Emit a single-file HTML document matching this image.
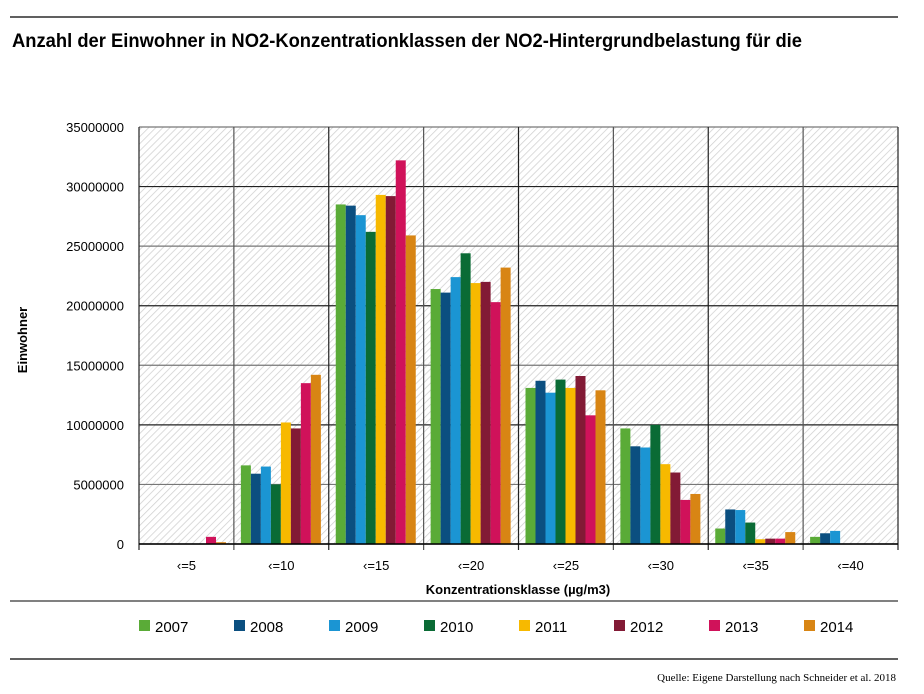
<!DOCTYPE html>
<html><head><meta charset="utf-8"><style>
body{margin:0;background:#fff;font-family:"Liberation Sans",sans-serif;}
</style></head><body>
<svg width="924" height="689" xmlns="http://www.w3.org/2000/svg">
<defs><pattern id="hatch" width="5" height="5" patternUnits="userSpaceOnUse" patternTransform="rotate(45)"><rect width="5" height="5" fill="#fff"/><line x1="0" y1="0" x2="0" y2="5" stroke="#cfcfcf" stroke-width="1.5"/></pattern></defs>
<line x1="10" y1="17" x2="898" y2="17" stroke="#000" stroke-width="1.2"/>
<text x="12" y="47" font-size="19" font-weight="bold" fill="#000" textLength="790" lengthAdjust="spacingAndGlyphs">Anzahl der Einwohner in NO2-Konzentrationklassen der NO2-Hintergrundbelastung für die</text>
<g id="plot"></g>
<text transform="translate(27,340) rotate(-90)" text-anchor="middle" font-size="13" font-weight="bold">Einwohner</text>
<text x="518" y="594" text-anchor="middle" font-size="13" font-weight="bold">Konzentrationsklasse (µg/m3)</text>
<line x1="10" y1="601" x2="898" y2="601" stroke="#000" stroke-width="1"/>
<g id="legend"></g>
<line x1="10" y1="659" x2="898" y2="659" stroke="#000" stroke-width="1.2"/>
<text x="896" y="681" text-anchor="end" font-size="11" font-family="Liberation Serif,serif">Quelle: Eigene Darstellung nach Schneider et al. 2018</text>
</svg>
<script>
const categories=["<=5","<=10","<=15","<=20","<=25","<=30","<=35","<=40"];
const years=["2007","2008","2009","2010","2011","2012","2013","2014"];
const colors=["#5aab37","#0b4f80","#1b95d3","#0a6b35","#f7b900","#821a35","#d0125a","#d88514"];
const s2007=[0,6600000,28500000,21400000,13100000,9700000,1300000,600000];
const s2008=[0,5900000,28400000,21100000,13700000,8200000,2900000,900000];
const s2009=[0,6500000,27600000,22400000,12700000,8100000,2850000,1100000];
const s2010=[0,5000000,26200000,24400000,13800000,10000000,1800000,0];
const s2011=[0,10200000,29300000,21900000,13100000,6700000,400000,0];
const s2012=[0,9700000,29200000,22000000,14100000,6000000,450000,0];
const s2013=[600000,13500000,32200000,20300000,10800000,3700000,450000,0];
const s2014=[150000,14200000,25900000,23200000,12900000,4200000,1000000,0];
const series=[s2007,s2008,s2009,s2010,s2011,s2012,s2013,s2014];
const yTicks=[0,5000000,10000000,15000000,20000000,25000000,30000000,35000000];
const NS="http://www.w3.org/2000/svg";
const L=139,R=898,T=127,B=544,yMax=35000000;
const cw=(R-L)/categories.length;
const y=v=>B-v/yMax*(B-T);
const x=i=>L+i*cw;
const plot=document.getElementById('plot');
function mk(tag,attrs,parent){const e=document.createElementNS(NS,tag);for(const k in attrs)e.setAttribute(k,attrs[k]);(parent||plot).appendChild(e);return e;}
let bg=mk('rect',{x:L,y:T,width:R-L,height:B-T,fill:'url(#hatch)'});


yTicks.forEach((t,i)=>{
 let g=mk('line',{x1:L,x2:R,y1:y(t),y2:y(t),stroke:(i%2==0)?'#222':'#777','stroke-width':1.2});
 
 
 let tx=mk('text',{x:124,y:y(t)+5,'text-anchor':'end','font-size':13});
 tx.textContent=t;
 
 
});
for(let i=0;i<=categories.length;i++){
 let g=mk('line',{x1:x(i),x2:x(i),y1:T,y2:B+6,stroke:(i%2==0)?'#222':'#555','stroke-width':1.2});
 
 
}
const bw=10,off=7;
series.forEach((s,j)=>{
 s.forEach((v,i)=>{
  if(v<=0)return;
  let r=mk('rect',{x:x(i)+off+j*bw,y:y(v),width:bw,height:B-y(v),fill:colors[j]});
  
  
 });
});
let ax=mk('line',{x1:L,x2:R,y1:B,y2:B,stroke:'#000','stroke-width':1.5});


categories.forEach((c,i)=>{
 let t=mk('text',{x:x(i)+cw/2,y:570,'text-anchor':'middle','font-size':13});
 t.textContent=c.replace('<','‹');
 
 
});
const lg=document.getElementById('legend');
years.forEach((yr,j)=>{
 const lx=139+j*95;
 let r=mk('rect',{x:lx,y:620,width:11,height:11,fill:colors[j]},lg);
 
 
 let t=mk('text',{x:lx+16,y:632,'font-size':15},lg);
 t.textContent=yr;
 
 
});
</script>
</body></html>
